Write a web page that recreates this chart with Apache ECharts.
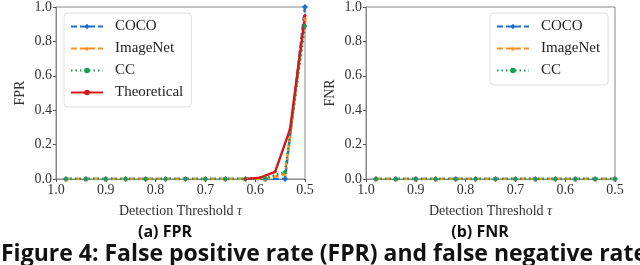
<!DOCTYPE html>
<html><head><meta charset="utf-8">
<script src="https://cdn.jsdelivr.net/npm/echarts@6/dist/echarts.min.js"></script>
<style>html,body{margin:0;padding:0;background:#fff}#c{width:640px;height:265px}</style>
</head><body><div id="c"></div>
<script>
// ---- data ----
const tau = [0.98,0.94,0.90,0.86,0.82,0.78,0.74,0.70,0.66,0.62,0.58,0.54,0.50];
const fprCOCO     = [0,0,0,0,0,0,0,0,0,0,0,0,1.0];
const fprImageNet = [0,0,0,0,0,0,0,0,0,0,0,0.03,0.93];
const fprCC       = [0,0,0,0,0,0,0,0,0,0,0.005,0.04,0.89];
const tauTheory   = [0.62,0.59,0.56,0.53,0.50];
const fprTheory   = [0,0.008,0.042,0.29,0.95];
const fnrCOCO     = [0,0,0,0,0,0,0,0,0,0,0,0,0];
const fnrImageNet = [0,0,0,0,0,0,0,0,0,0,0,0,0];
const fnrCC       = [0,0,0,0,0,0,0,0,0,0,0,0,0];
const xTicks = [1.0,0.9,0.8,0.7,0.6,0.5];
const yTicks = [0.0,0.2,0.4,0.6,0.8,1.0];
const names = ['COCO','ImageNet','CC','Theoretical'];

const C = {COCO:'#1f6fd0', ImageNet:'#ff8c1a', CC:'#12a050', Theoretical:'#d21a1a'};
const SERIF = '"Liberation Serif","DejaVu Serif",serif';
const SANS = '"Open Sans","Noto Sans",sans-serif';
const pair = (xs, ys) => xs.map((x,i)=>[x, ys[i]]);
const starPath = 'path://M50,0 L61,35 L98,35 L68,57 L79,91 L50,70 L21,91 L32,57 L2,35 L39,35 Z';

function mkSeries(name, data, idx){
  const st = {
    COCO:{type:[6,3], sym:'diamond', size:6},
    ImageNet:{type:[6,3], sym:starPath, size:6},
    CC:{type:[1.5,3], sym:'circle', size:4},
    Theoretical:{type:'solid', sym:'circle', size:3}
  }[name];
  return {
    name, type:'line', xAxisIndex:idx, yAxisIndex:idx, data,
    color:C[name], symbol:st.sym, symbolSize:st.size, showSymbol:true,
    lineStyle:{width:2.4, type:st.type, color:C[name]},
    itemStyle:{color:C[name]}, animation:false, clip:true
  };
}
function xAx(idx){
  return {gridIndex:idx, type:'value', inverse:true, min:0.5, max:1.0, interval:0.1,
    name:'Detection Threshold {t|τ}', nameLocation:'middle', nameGap:25,
    nameTextStyle:{fontFamily:SERIF, fontSize:14, color:'#333', rich:{t:{fontFamily:SERIF, fontStyle:'italic', fontSize:14, color:'#333'}}},
    axisLine:{show:true, lineStyle:{color:'#888', width:1}},
    axisTick:{show:true, length:3, lineStyle:{color:'#555'}},
    axisLabel:{fontFamily:SERIF, fontSize:14, color:'#333', margin:4, formatter:v=>v.toFixed(1)},
    splitLine:{show:false}};
}
function yAx(idx, nm){
  return {gridIndex:idx, type:'value', min:0, max:1, interval:0.2,
    name:nm, nameLocation:'middle', nameGap:29,
    nameTextStyle:{fontFamily:SERIF, fontSize:14, color:'#333'},
    axisLine:{show:true, lineStyle:{color:'#888', width:1}},
    axisTick:{show:true, length:3, lineStyle:{color:'#555'}},
    axisLabel:{fontFamily:SERIF, fontSize:14, color:'#333', margin:4, formatter:v=>v.toFixed(1)},
    splitLine:{show:false}};
}
function legend(left, top, data){
  return {orient:'vertical', left, top, data, itemWidth:32, itemHeight:7, itemGap:5,
    padding:[5,8,6,6], borderColor:'#ddd', borderWidth:1, borderRadius:4, backgroundColor:'rgba(255,255,255,0.85)',
    textStyle:{fontFamily:SERIF, fontSize:15, color:'#222', lineHeight:17, padding:[0,0,0,7]}};
}

const chart = echarts.init(document.getElementById('c'), null, {renderer:'canvas'});
chart.setOption({
  animation:false,
  grid:[
    {left:56, top:5, width:249, height:174, show:true, borderColor:'#888', borderWidth:1, backgroundColor:'transparent'},
    {left:366, top:5, width:249, height:174, show:true, borderColor:'#888', borderWidth:1, backgroundColor:'transparent'}
  ],
  xAxis:[xAx(0), xAx(1)],
  yAxis:[yAx(0,'FPR'), yAx(1,'FNR')],
  legend:[legend(64,13,names), legend(490,13,['COCO','ImageNet','CC'])],
  series:[
    mkSeries('COCO', pair(tau,fprCOCO), 0),
    mkSeries('ImageNet', pair(tau,fprImageNet), 0),
    mkSeries('CC', pair(tau,fprCC), 0),
    mkSeries('Theoretical', pair(tauTheory,fprTheory), 0),
    mkSeries('COCO', pair(tau,fnrCOCO), 1),
    mkSeries('ImageNet', pair(tau,fnrImageNet), 1),
    mkSeries('CC', pair(tau,fnrCC), 1)
  ],
  graphic:[
    {type:'text', x:165, y:232, style:{text:'(a) FPR', fontFamily:SANS, fontWeight:'bold', fontSize:16, fill:'#111', align:'center', verticalAlign:'middle'}},
    {type:'text', x:480, y:232, style:{text:'(b) FNR', fontFamily:SANS, fontWeight:'bold', fontSize:16, fill:'#111', align:'center', verticalAlign:'middle'}},
    {type:'text', x:1, y:254, style:{text:'Figure 4: False positive rate (FPR) and false negative rate', fontFamily:SANS, fontWeight:'bold', fontSize:23, fill:'#111', align:'left', verticalAlign:'middle'}}
  ]
});
</script></body></html>
